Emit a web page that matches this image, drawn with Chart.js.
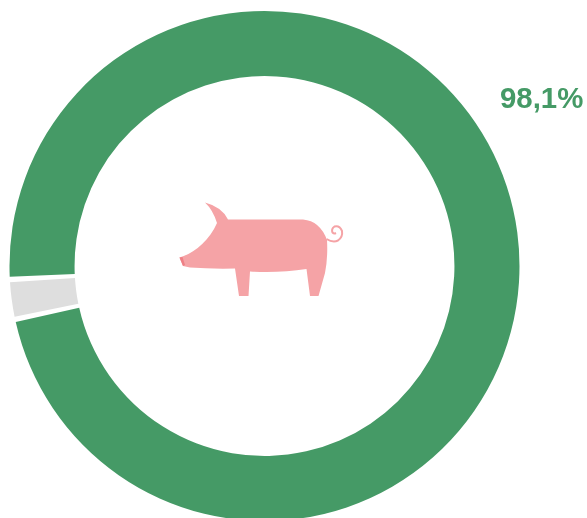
<!DOCTYPE html>
<html>
<head>
<meta charset="utf-8">
<title>98,1%</title>
<script src="https://cdn.jsdelivr.net/npm/chart.js@4"></script>
<style>
  html, body { margin: 0; padding: 0; width: 587px; height: 518px; overflow: hidden; background: #fff; }
  #wrap { position: relative; width: 587px; height: 518px; overflow: hidden; }
  #donut { position: absolute; left: 0; top: 0; }
  #pig { position: absolute; left: 0; top: 0; }
</style>
</head>
<body>
<div id="wrap">
  <canvas id="donut" width="587" height="532"></canvas>
  <!-- pig icon in the hole -->
  <svg id="pig" width="587" height="518" viewBox="0 0 587 518">
    <path fill="#f5a3a6" d="M205 202.5 Q222 207 228 219.5 L303 219.5 Q320 221 327 240 Q328 258 325 273 L318.5 296 L310 296 L306.5 269 Q280 273 250 271.5 L248.5 296 L239 296 L235 268.5 Q210 269 190 267.5 L183 266 L179.5 257.5 C192 254 209 242 217 223 Q213 210 205 202.5 Z"/>
    <path fill="#ee7f85" d="M179.5 257.5 L182.5 257 L185 265 L183 266 Z"/>
    <path fill="none" stroke="#f5a3a6" stroke-width="2" d="M326.5 239 Q333 243 338 240.5 Q343 237 342 231 Q339.5 225 334.5 226.5 Q331 229 332.5 232.5 Q334 234 336 233"/>
  </svg>
</div>
<script>
const categories = ["Oui", "Non"];
const seriesValues = [98.1, 2.2];
const segmentColors = ["#459a66", "#dedede"];
const pctLabel = "98,1%";

// label on the right, outside the ring
const pctLabelPlugin = {
  id: "pctLabel",
  afterDraw(chart) {
    const c = chart.ctx;
    c.save();
    c.font = "bold 29.4px 'Liberation Sans', Arial, sans-serif";
    c.fillStyle = segmentColors[0];
    c.textAlign = "left";
    c.textBaseline = "alphabetic";
    c.fillText(pctLabel, 500, 108);
    c.restore();
  },
};

const donutChart = new Chart(document.getElementById("donut").getContext("2d"), {
  type: "doughnut",
  data: {
    labels: categories,
    datasets: [
      {
        data: seriesValues,
        backgroundColor: segmentColors,
        borderWidth: 0,
        spacing: 3,
      },
    ],
  },
  options: {
    responsive: false,
    animation: false,
    radius: 253.5,
    cutout: 195.5,
    rotation: 266.4,
    layout: { padding: { right: 58 } },
    plugins: {
      legend: { display: false },
      title: { display: false },
      tooltip: { enabled: false },
    },
  },
  plugins: [pctLabelPlugin],
});
</script>
</body>
</html>
